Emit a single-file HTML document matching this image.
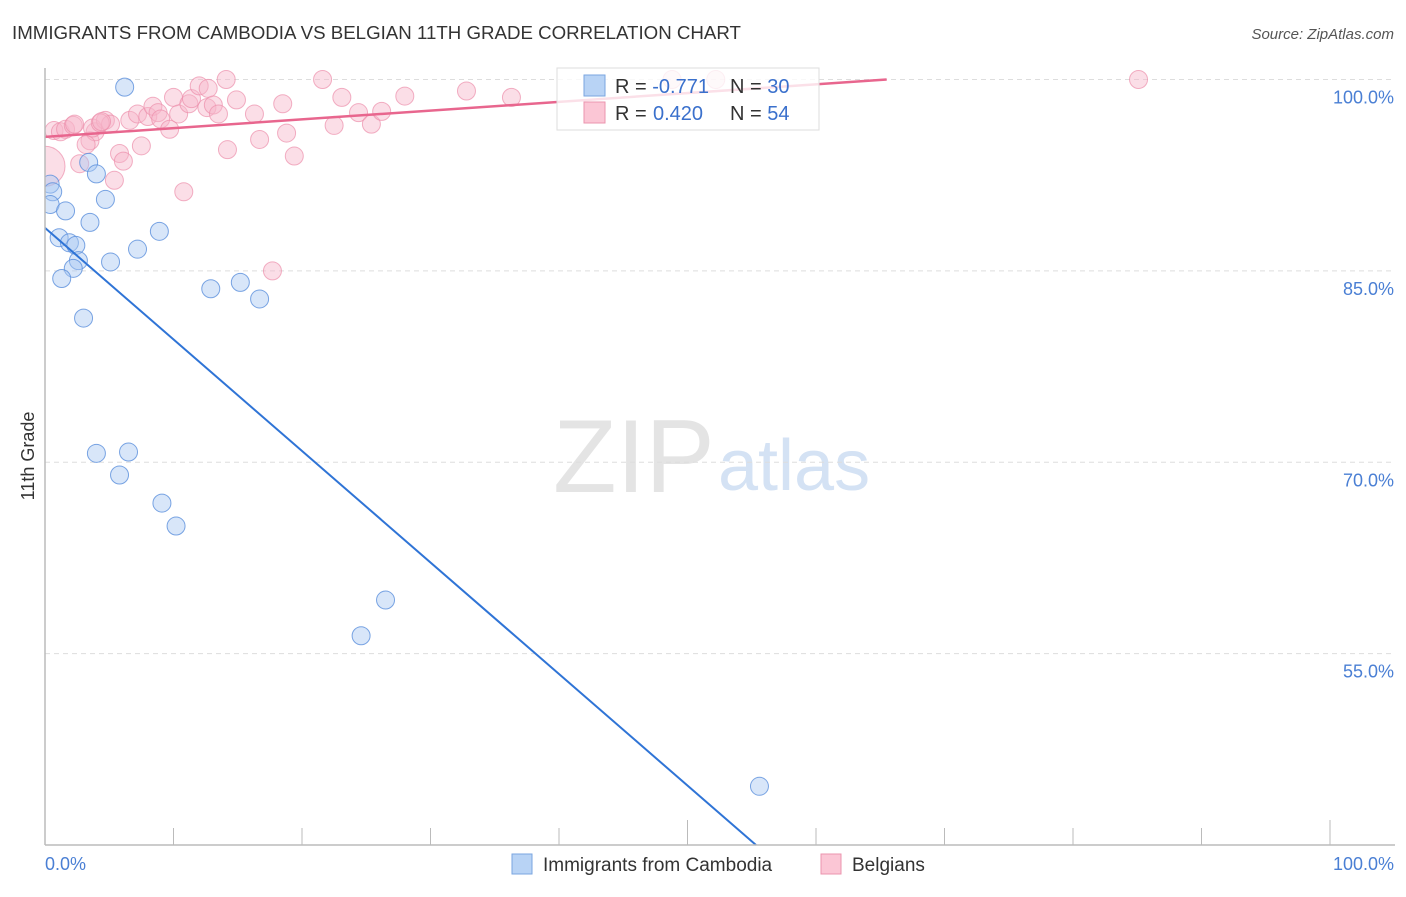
<!DOCTYPE html>
<html><head><meta charset="utf-8"><style>
body{margin:0;background:#fff;font-family:"Liberation Sans",sans-serif;}
svg text{font-family:"Liberation Sans",sans-serif;}
</style></head><body>
<svg id="c" width="1406" height="892" xmlns="http://www.w3.org/2000/svg">
<defs><clipPath id="plotclip"><rect x="45" y="60" width="1360" height="785"/></clipPath></defs>
<text x="12" y="39" font-size="18.7" fill="#333">IMMIGRANTS FROM CAMBODIA VS BELGIAN 11TH GRADE CORRELATION CHART</text>
<text x="1394" y="39" font-size="15" fill="#555" text-anchor="end" font-style="italic">Source: ZipAtlas.com</text>
<text x="553" y="492" font-size="104" fill="#e4e4e4" font-family="Liberation Serif">ZIP</text>
<text x="718" y="490" font-size="72" fill="#d4e2f4">atlas</text>
<text transform="translate(34,456) rotate(-90)" font-size="18" fill="#333" text-anchor="middle">11th Grade</text>
<g id="grid"></g><g id="ticks"></g><g id="pts" clip-path="url(#plotclip)"></g><g id="lines"></g>
<line x1="45" y1="68" x2="45" y2="845" stroke="#bbb" stroke-width="1.5"/>
<line x1="45" y1="845" x2="1395" y2="845" stroke="#bbb" stroke-width="1.5"/>
<text x="45" y="870" font-size="18" fill="#4a7fd4">0.0%</text>
<text x="1394" y="870" font-size="18" fill="#4a7fd4" text-anchor="end">100.0%</text>
<g>
<rect x="557" y="68" width="262" height="62" fill="#fff" fill-opacity="0.8" stroke="#ddd"/>
<rect x="584" y="75" width="21" height="21" fill="#b8d3f5" stroke="#7aa6e0"/>
<rect x="584" y="102" width="21" height="21" fill="#fbc6d5" stroke="#eb94ae"/>
<text x="615" y="93" font-size="20" fill="#333">R = <tspan fill="#3a70cc">-0.771</tspan><tspan x="730">N = </tspan><tspan fill="#3a70cc">30</tspan></text>
<text x="615" y="120" font-size="20" fill="#333">R = <tspan fill="#3a70cc" x="653">0.420</tspan><tspan x="730">N = </tspan><tspan fill="#3a70cc">54</tspan></text>
</g>
<g>
<rect x="512" y="854" width="20" height="20" fill="#b8d3f5" stroke="#7aa6e0"/>
<text x="543" y="871" font-size="19" fill="#333">Immigrants from Cambodia</text>
<rect x="821" y="854" width="20" height="20" fill="#fbc6d5" stroke="#eb94ae"/>
<text x="852" y="871" font-size="19" fill="#333">Belgians</text>
</g>
</svg>
<script>
const yTicks=[100,85,70,55];
const yTickLabels=["100.0%","85.0%","70.0%","55.0%"];
const xTicks=[0,10,20,30,40,50,60,70,80,90,100];
const cambodiaX=[6.2,0.4,0.6,0.4,1.6,3.4,4,4.7,3.5,8.9,1.1,1.9,2.4,7.2,5.1,2.6,2.2,1.3,12.9,15.2,16.7,3,4,6.5,5.8,9.1,10.2,26.5,24.6,55.6];
const cambodiaY=[99.4,91.8,91.2,90.2,89.7,93.5,92.6,90.6,88.8,88.1,87.6,87.2,87,86.7,85.7,85.8,85.2,84.4,83.6,84.1,82.8,81.3,70.7,70.8,69,66.8,65,59.2,56.4,44.6];
const belgX=[0,0.7,1.2,1.6,2.2,2.3,3.5,3.9,3.7,4.7,5.1,4.3,2.7,3.2,4.4,5.4,5.8,6.1,6.6,7.2,7.5,8,8.4,8.8,9,9.7,10,10.4,10.8,11.2,11.4,12,12.7,12.6,13.1,13.5,14.1,14.2,14.9,16.3,16.7,17.7,18.5,18.8,19.4,21.6,22.5,23.1,24.4,25.4,26.2,28,32.8,36.3,48.8,52.2,85.1];
const belgY=[93.2,96,95.9,96.1,96.4,96.5,95.2,95.9,96.2,96.8,96.5,96.6,93.4,94.9,96.7,92.1,94.2,93.6,96.8,97.3,94.8,97.1,97.9,97.4,96.9,96.1,98.6,97.3,91.2,98.1,98.5,99.5,99.3,97.8,98,97.3,100,94.5,98.4,97.3,95.3,85,98.1,95.8,94,100,96.4,98.6,97.4,96.5,97.5,98.7,99.1,98.6,100,100,100];
const cambodiaTrend=[[0,88.37],[55.33,40]];
const belgTrend=[[0,95.5],[65.5,100]];
const X0=45,X1=1330,YT=79.5,YB=845,VMIN=40,VMAX=100;
const sx=v=>X0+(v/100)*(X1-X0);
const sy=v=>YB-(v-VMIN)/(VMAX-VMIN)*(YB-YT);
const NS="http://www.w3.org/2000/svg";
function mk(t,a,p){const e=document.createElementNS(NS,t);for(const k in a)e.setAttribute(k,a[k]);p.appendChild(e);return e;}
const grid=document.getElementById('grid');
yTicks.forEach((v,i)=>{
 const l=mk('line',{x1:45,x2:1395,y1:sy(v),y2:sy(v),stroke:'#ddd','stroke-dasharray':'5,4'},grid);
 
 
 const t=mk('text',{x:1394,y:sy(v)+24,'font-size':18,fill:'#4a7fd4','text-anchor':'end'},grid);
 t.textContent=yTickLabels[i];
 
 
});
const tk=document.getElementById('ticks');
xTicks.forEach((v,i)=>{
 const tall=(v===50||v===100);
 const l=mk('line',{x1:sx(v),x2:sx(v),y1:tall?820:828,y2:845,stroke:'#bbb'},tk);
 
 
});
const pts=document.getElementById('pts');
belgX.forEach((v,i)=>{
 const c=mk('circle',{cx:sx(v),cy:sy(belgY[i]),r:i===0?20:9,fill:'#f7b6c9','fill-opacity':0.45,stroke:'#ec8fab','stroke-opacity':0.7},pts);
 
 
});
cambodiaX.forEach((v,i)=>{
 const c=mk('circle',{cx:sx(v),cy:sy(cambodiaY[i]),r:9,fill:'#a9c8f2','fill-opacity':0.45,stroke:'#5a8fdc','stroke-opacity':0.8},pts);
 
 
});
const ln=document.getElementById('lines');
const a=mk('line',{x1:sx(cambodiaTrend[0][0]),y1:sy(cambodiaTrend[0][1]),x2:sx(cambodiaTrend[1][0]),y2:sy(cambodiaTrend[1][1]),stroke:'#2f74d6','stroke-width':2},ln);


const b=mk('line',{x1:sx(belgTrend[0][0]),y1:sy(belgTrend[0][1]),x2:sx(belgTrend[1][0]),y2:sy(belgTrend[1][1]),stroke:'#e8668e','stroke-width':2.5},ln);


</script>
</body></html>
